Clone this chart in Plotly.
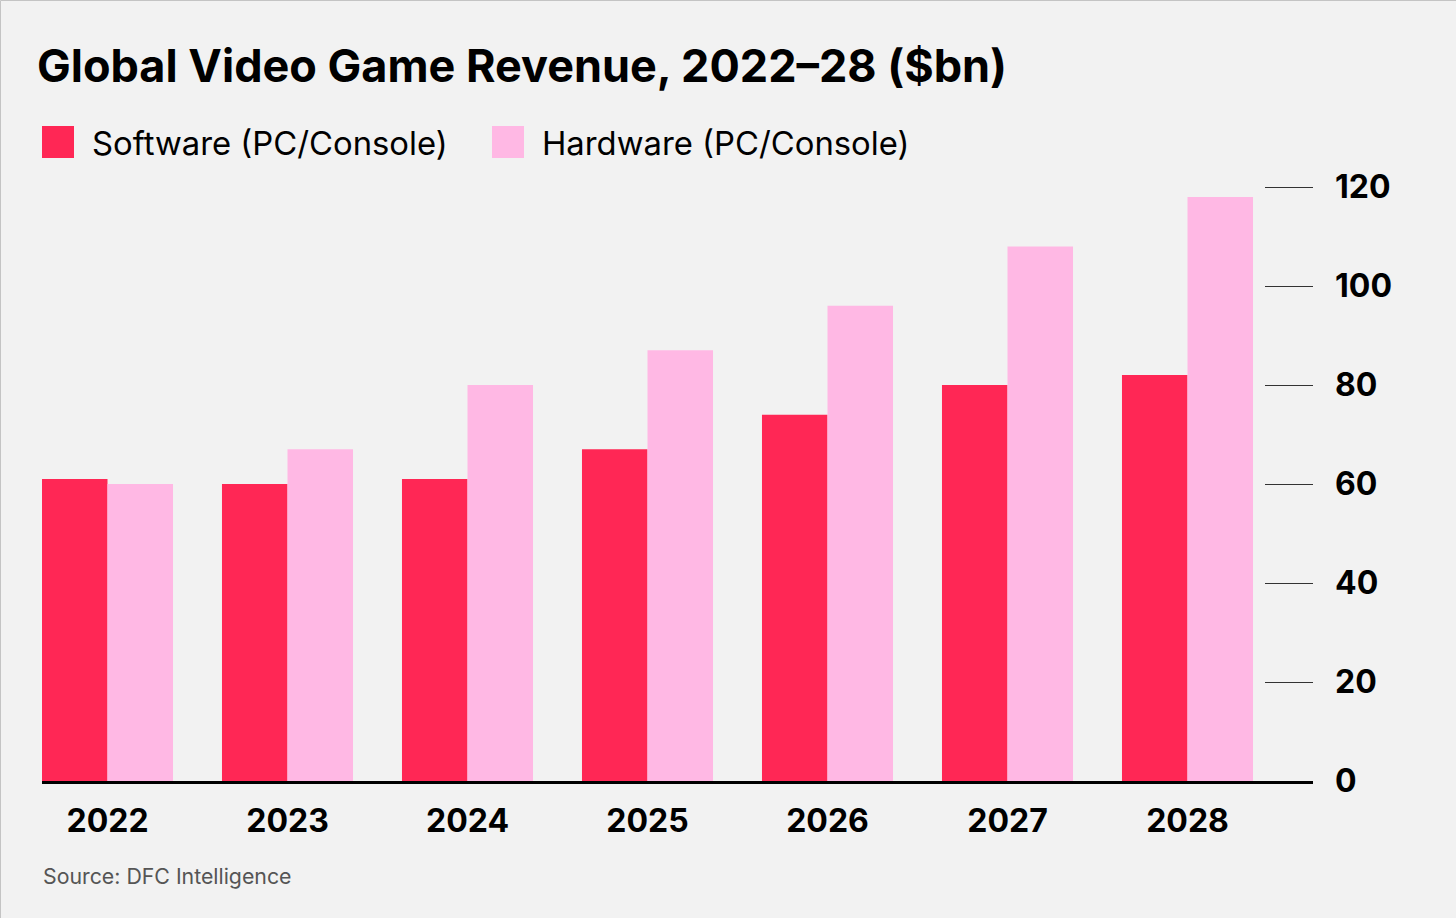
import plotly.graph_objects as go

# ---- data ----
years = ["2022", "2023", "2024", "2025", "2026", "2027", "2028"]
software = [61, 60, 61, 67, 74, 80, 82]
hardware = [60, 67, 80, 87, 96, 108, 118]
series_names = ["Software (PC/Console)", "Hardware (PC/Console)"]
series_colors = ["#FF2755", "#FFB8E4"]
y_ticks = [0, 20, 40, 60, 80, 100, 120]
title_text = "Global Video Game Revenue, 2022–28 ($bn)"
source_text = "Source: DFC Intelligence"

W, H = 1456, 918
ML, MR, MT, MB = 42, 143, 180, 137
PW = W - ML - MR
PH = H - MT - MB
FONT = "Inter"

fig = go.Figure()
for name, vals, col in zip(series_names, [software, hardware], series_colors):
    fig.add_trace(go.Bar(x=years, y=vals, name=name, marker=dict(color=col, line=dict(width=0)),
                         showlegend=False))

# x range so category 0 centre sits at 107.5 px, 180 px spacing
px_per_cat = 180
x0 = (ML - 107.5) / px_per_cat
x1 = (ML + PW - 107.5) / px_per_cat
y_max = PH / 4.95

fig.update_layout(
    width=W, height=H,
    margin=dict(l=ML, r=MR, t=MT, b=MB, pad=0),
    paper_bgcolor="#F2F2F2", plot_bgcolor="#F2F2F2",
    barmode="group", bargap=0.272, bargroupgap=0,
    font=dict(family=FONT, color="#000000"),
    xaxis=dict(type="category", range=[x0, x1], showgrid=False, showline=True,
               linecolor="#000000", linewidth=3, ticks="",
               tickfont=dict(family=FONT, size=32, weight=700, color="#000000"),
               ticklabelstandoff=10, fixedrange=True),
    yaxis=dict(side="right", range=[0, y_max], tickvals=y_ticks, ticks="inside", ticklen=48,
               tickwidth=1, tickcolor="#333333", showgrid=False, showline=False, zeroline=False,
               tickfont=dict(family=FONT, size=32, weight=700, color="#000000"),
               ticklabelstandoff=21, fixedrange=True),
    showlegend=False,
)

# title
fig.add_annotation(text=title_text, xref="paper", yref="paper",
                   x=(35 - ML) / PW, y=1 + (MT - 66) / PH, xanchor="left", yanchor="middle",
                   showarrow=False, font=dict(family=FONT, size=45, weight=700, color="#000000"))

# legend (manual, built from series lists)
leg_x = [42, 492]
for i, (name, col) in enumerate(zip(series_names, series_colors)):
    lx = leg_x[i]
    fig.add_shape(type="rect", xref="paper", yref="paper",
                  x0=(lx - ML) / PW, x1=(lx + 32 - ML) / PW,
                  y0=1 + (MT - 158) / PH, y1=1 + (MT - 126) / PH,
                  fillcolor=col, line=dict(width=0))
    fig.add_annotation(text=name, xref="paper", yref="paper",
                       x=(lx + 48 - ML) / PW, y=1 + (MT - 143) / PH,
                       xanchor="left", yanchor="middle", showarrow=False,
                       font=dict(family=FONT, size=32.8, color="#000000"))

# source
fig.add_annotation(text=source_text, xref="paper", yref="paper",
                   x=(41 - ML) / PW, y=-(876 - (MT + PH)) / PH,
                   xanchor="left", yanchor="middle", showarrow=False,
                   font=dict(family=FONT, size=21.3, color="#555555"))

# thin frame on top/left edge
fig.add_shape(type="rect", xref="paper", yref="paper",
              x0=(0.5 - ML) / PW, x1=(W + 10 - ML) / PW,
              y0=-(H + 10 - MT - PH) / PH, y1=1 + (MT - 0.5) / PH,
              line=dict(color="#C4C4C4", width=1), fillcolor="rgba(0,0,0,0)", layer="above")

fig.write_html("out.html", config={"displayModeBar": False})
